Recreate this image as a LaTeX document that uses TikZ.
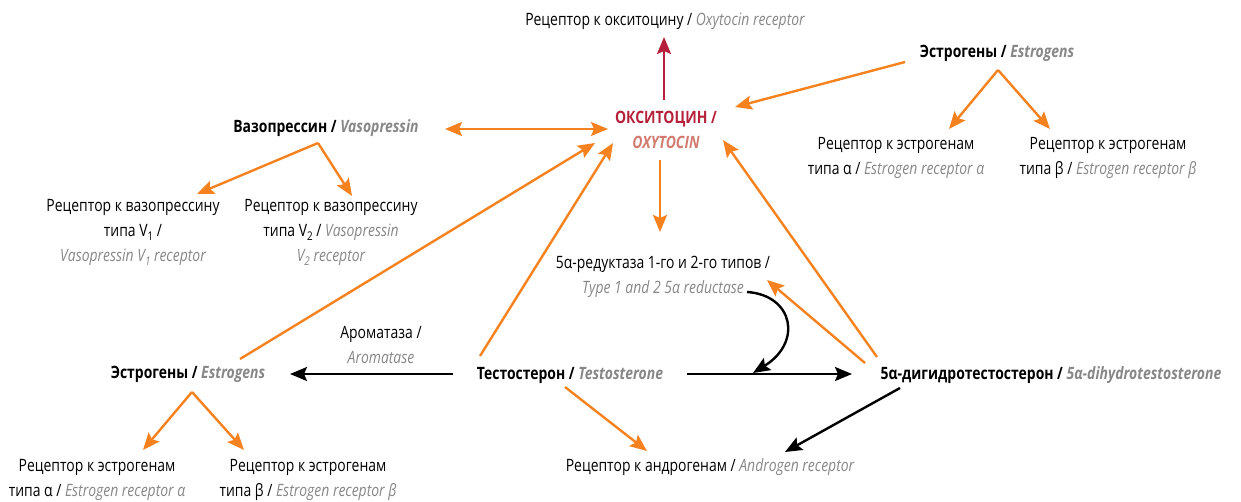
\documentclass[tikz,border=0pt]{standalone}
\usepackage{fontspec}
\setmainfont{Open Sans}[FakeStretch=0.82]
\usetikzlibrary{arrows.meta}
\definecolor{orng}{HTML}{F5821F}
\definecolor{oxyred}{HTML}{B5203A}
\definecolor{oxyrose}{HTML}{D27A6F}
\definecolor{gris}{HTML}{878787}
\newcommand{\en}[1]{\textcolor{gris}{\itshape #1}}
\newcommand{\enb}[1]{\textcolor{gris}{\bfseries\itshape #1}}
\newcommand{\ind}[1]{\raisebox{-4pt}{\fontsize{12}{12}\selectfont #1}}
\begin{document}
\begin{tikzpicture}[x=1pt,y=-1pt]

\tikzset{txt/.style={align=center,inner sep=2pt,font=\fontsize{17}{25}\selectfont}} %style des textes
\tikzset{fl/.style={line width=2.4pt,-{Stealth[length=17pt,width=14pt,inset=3pt]}}}
\tikzset{flo/.style={fl,orng}}
\useasboundingbox (0,0) rectangle (1241,502);

%--------------------noeuds---------------------
\node [txt] (oxyrec) at (665,21) {Рецептор к окситоцину / \en{Oxytocin receptor}};
\node [txt] (oxy) at (666,130) {\textcolor{oxyred}{\bfseries ОКСИТОЦИН /}\\\textcolor{oxyrose}{\bfseries\itshape OXYTOCIN}};
\node [txt] (estT) at (997,53) {\textbf{Эстрогены /} \enb{Estrogens}};
\node [txt] (estTa) at (896,158) {Рецептор к эстрогенам\\типа α / \en{Estrogen receptor α}};
\node [txt] (estTb) at (1108,158) {Рецептор к эстрогенам\\типа β / \en{Estrogen receptor β}};
\node [txt] (vaso) at (326,128) {\textbf{Вазопрессин /} \enb{Vasopressin}};
\node [txt] (v1) at (133,232) {Рецептор к вазопрессину\\типа V\ind{1} /\\\en{Vasopressin V\ind{1} receptor}};
\node [txt] (v2) at (331,232) {Рецептор к вазопрессину\\типа V\ind{2} / \en{Vasopressin}\\\en{V\ind{2} receptor}};
\node [txt] (red) at (663,277) {5α-редуктаза 1-го и 2-го типов /\\\en{Type 1 and 2 5α reductase}};
\node [txt] (arom) at (381,345) {Ароматаза /\\\en{Aromatase}};
\node [txt] (estB) at (188,374) {\textbf{Эстрогены /} \enb{Estrogens}};
\node [txt] (testo) at (570,375) {\textbf{Тестостерон /} \enb{Testosterone}};
\node [txt] (dht) at (1051,375) {\textbf{5α-дигидротестостерон /} \enb{5α-dihydrotestosterone}};
\node [txt] (andr) at (710,467) {Рецептор к андрогенам / \en{Androgen receptor}};
\node [txt] (estBa) at (97,480) {Рецептор к эстрогенам\\типа α / \en{Estrogen receptor α}};
\node [txt] (estBb) at (308,480) {Рецептор к эстрогенам\\типа β / \en{Estrogen receptor β}};
\coordinate (M) at (753,373);

%--------------------fleches vers l'ocytocine---------------------
\draw [fl,oxyred] ([shift={(-2,-30)}]oxy.center) -- ([shift={(-1,16)}]oxyrec.center);
\draw [flo] ([shift={(-92,9)}]estT.center) -- ([shift={(69,-23)}]oxy.center);
\draw [flo,{Stealth[length=17pt,width=14pt,inset=3pt]}-{Stealth[length=17pt,width=14pt,inset=3pt]}] ([shift={(119,1)}]vaso.center) -- ([shift={(-58,-1)}]oxy.center);
\draw [flo] ([shift={(52,-15)}]estB.center) -- ([shift={(-71,13)}]oxy.center);
\draw [flo] ([shift={(-90,-19)}]testo.center) -- ([shift={(-53,13)}]oxy.center);
\draw [flo] ([shift={(-174,-18)}]dht.center) -- ([shift={(57,10)}]oxy.center);
\draw [flo] ([shift={(-6,30)}]oxy.center) -- ([shift={(-3,-45)}]red.center);

%--------------------recepteurs---------------------
\draw [flo] ([shift={(1,17)}]estT.center) -- ([shift={(53,-29)}]estTa.center);
\draw [flo] ([shift={(1,17)}]estT.center) -- ([shift={(-58,-29)}]estTb.center);
\draw [flo] ([shift={(-8,15)}]vaso.center) -- ([shift={(64,-38)}]v1.center);
\draw [flo] ([shift={(-8,15)}]vaso.center) -- ([shift={(21,-36)}]v2.center);
\draw [flo] ([shift={(4,18)}]estB.center) -- ([shift={(46,-30)}]estBa.center);
\draw [flo] ([shift={(4,18)}]estB.center) -- ([shift={(-64,-30)}]estBb.center);
\draw [flo] ([shift={(-5,12)}]testo.center) -- ([shift={(-63,-16)}]andr.center);
\draw [fl] ([shift={(-151,13)}]dht.center) -- ([shift={(75,-15)}]andr.center);

%--------------------metabolisme---------------------
\draw [fl] ([shift={(-117,-1)}]testo.center) -- ([shift={(102,0)}]estB.center);
\draw [fl] ([shift={(117,-1)}]testo.center) -- ([shift={(-199,-1)}]dht.center);
\draw [flo] ([shift={(-186,-12)}]dht.center) -- ([shift={(104,3)}]red.center);
\draw [fl] ([shift={(84,15)}]red.center) .. controls ([shift={(130,18)}]red.center) and ([shift={(140,65)}]red.center) .. (M);

\end{tikzpicture}
\end{document}
